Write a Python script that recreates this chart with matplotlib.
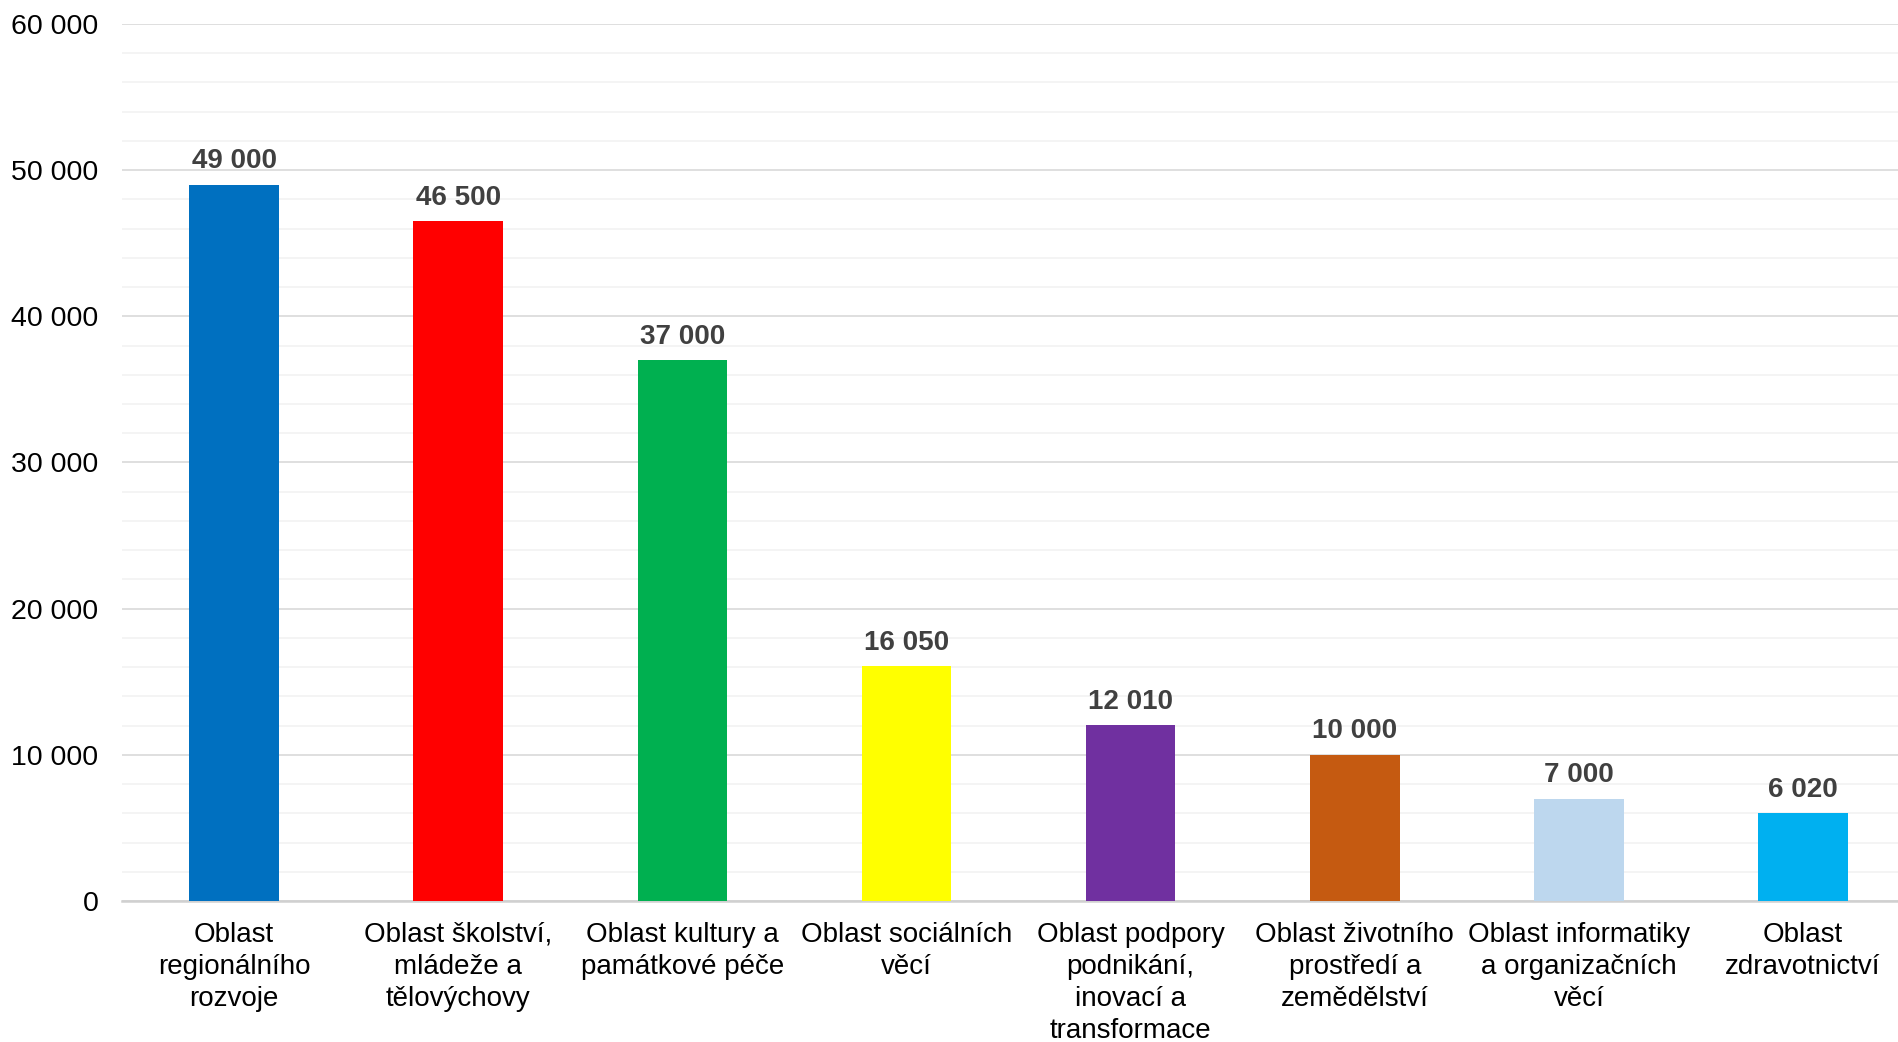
import matplotlib.pyplot as plt
import numpy as np
from matplotlib.ticker import MultipleLocator, FuncFormatter

# Data
categories = [
    "Oblast\nregionálního\nrozvoje",
    "Oblast školství,\nmládeže a\ntělovýchovy",
    "Oblast kultury a\npamátkové péče",
    "Oblast sociálních\nvěcí",
    "Oblast podpory\npodnikání,\ninovací a\ntransformace",
    "Oblast životního\nprostředí a\nzemědělství",
    "Oblast informatiky\na organizačních\nvěcí",
    "Oblast\nzdravotnictví",
]
values = [49000, 46500, 37000, 16050, 12010, 10000, 7000, 6020]
colors = ["#0070C0", "#FF0000", "#00B050", "#FFFF00",
          "#7030A0", "#C55A11", "#BDD7EE", "#00B0F0"]

plt.rcParams['font.family'] = ['Liberation Sans', 'DejaVu Sans']

def fmt(v, pos=None):
    return f"{int(v):,}".replace(",", " ")

fig = plt.figure(figsize=(18.98, 10.42), dpi=100)
# plot area runs slightly past the right edge of the picture
ax = fig.add_axes([0.0643, 0.1353, 0.9447, 0.8417])

x = np.arange(len(categories))
bars = ax.bar(x, values, width=0.4, color=colors, zorder=3)

# Data labels
for b, v in zip(bars, values):
    ax.annotate(fmt(v), (b.get_x() + b.get_width() / 2, v),
                xytext=(0, 7.5), textcoords='offset points',
                ha='center', va='bottom', fontsize=20, fontweight='bold',
                color='#404040')

# Axes and grid
ax.set_xlim(-0.5, len(categories) - 0.5)
ax.set_ylim(0, 60000)
ax.yaxis.set_major_locator(MultipleLocator(10000))
ax.yaxis.set_minor_locator(MultipleLocator(2000))
ax.yaxis.set_major_formatter(FuncFormatter(fmt))
ax.grid(axis='y', which='major', color='#d9d9d9', linewidth=1.2, zorder=0)
ax.grid(axis='y', which='minor', color='#f2f2f2', linewidth=1.2, zorder=0)

for s in ['top', 'right', 'left']:
    ax.spines[s].set_visible(False)
ax.spines['bottom'].set_color('#d0d0d0')
ax.spines['bottom'].set_linewidth(1.8)

ax.set_xticks(x)
ax.set_xticklabels(categories, fontsize=20, linespacing=1.3)
ax.tick_params(axis='x', length=0, pad=15)
ax.tick_params(axis='y', which='both', length=0, pad=17, labelsize=20.5)

fig.savefig('out.png', dpi=100)
